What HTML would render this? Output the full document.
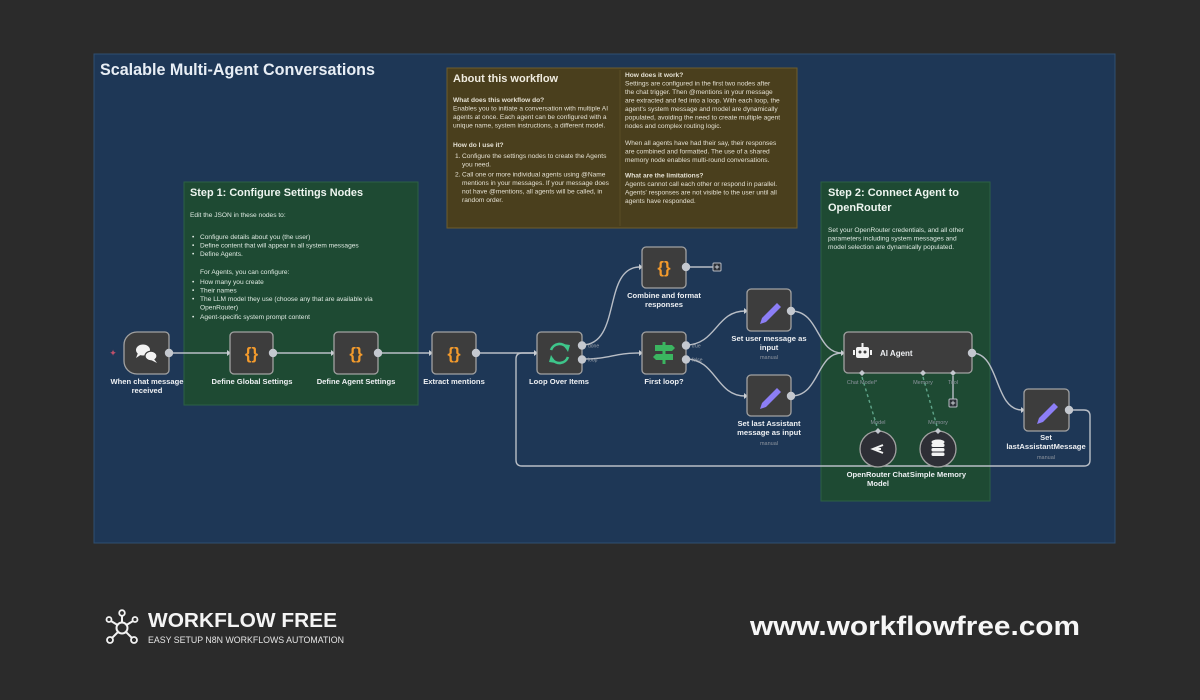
<!DOCTYPE html>
<html><head><meta charset="utf-8">
<style>
html,body{margin:0;padding:0;background:#2b2b2b;}
svg{display:block;}
text{font-family:"Liberation Sans",sans-serif;}
</style></head>
<body>
<svg width="1200" height="700" viewBox="0 0 1200 700" xmlns="http://www.w3.org/2000/svg">
<rect x="0" y="0" width="1200" height="700" fill="#2b2b2b"/>
<!-- frame -->
<rect x="94" y="54" width="1021" height="489" fill="#1e3756" stroke="#2f4f72" stroke-width="1"/>
<text x="100" y="75" font-size="16.5" font-weight="bold" fill="#e8eef5" textLength="275" lengthAdjust="spacingAndGlyphs">Scalable Multi-Agent Conversations</text>

<!-- About note -->
<rect x="447" y="68" width="350" height="160" fill="#4a3f1d" stroke="#6d5d2d" stroke-width="1"/>
<line x1="620" y1="70" x2="620" y2="226" stroke="#5a4c25" stroke-width="1"/>
<g fill="#e4e0d2" font-size="6.6">
<text x="453" y="82" font-size="11" font-weight="bold" fill="#f0ece0">About this workflow</text>
<text x="453" y="102" font-weight="bold">What does this workflow do?</text>
<text x="453" y="110.5">Enables you to initiate a conversation with multiple AI</text>
<text x="453" y="119">agents at once. Each agent can be configured with a</text>
<text x="453" y="127.5">unique name, system instructions, a different model.</text>
<text x="453" y="147" font-weight="bold">How do I use it?</text>
<text x="455" y="158">1.</text><text x="462" y="158">Configure the settings nodes to create the Agents</text>
<text x="462" y="166.5">you need.</text>
<text x="455" y="176.5">2.</text><text x="462" y="176.5">Call one or more individual agents using @Name</text>
<text x="462" y="185">mentions in your messages. If your message does</text>
<text x="462" y="193.5">not have @mentions, all agents will be called, in</text>
<text x="462" y="202">random order.</text>

<text x="625" y="77" font-weight="bold">How does it work?</text>
<text x="625" y="85.5">Settings are configured in the first two nodes after</text>
<text x="625" y="94">the chat trigger. Then @mentions in your message</text>
<text x="625" y="102.5">are extracted and fed into a loop. With each loop, the</text>
<text x="625" y="111">agent's system message and model are dynamically</text>
<text x="625" y="119.5">populated, avoiding the need to create multiple agent</text>
<text x="625" y="128">nodes and complex routing logic.</text>
<text x="625" y="145">When all agents have had their say, their responses</text>
<text x="625" y="153.5">are combined and formatted. The use of a shared</text>
<text x="625" y="162">memory node enables multi-round conversations.</text>
<text x="625" y="177.5" font-weight="bold">What are the limitations?</text>
<text x="625" y="186">Agents cannot call each other or respond in parallel.</text>
<text x="625" y="194.5">Agents' responses are not visible to the user until all</text>
<text x="625" y="203">agents have responded.</text>
</g>

<!-- Step 1 note -->
<rect x="184" y="182" width="234" height="223" fill="#1e4a33" stroke="#2c6044" stroke-width="1"/>
<g fill="#dfeae2" font-size="6.6">
<text x="190" y="196" font-size="11" font-weight="bold" fill="#eef5f0" textLength="173" lengthAdjust="spacingAndGlyphs">Step 1: Configure Settings Nodes</text>
<text x="190" y="217">Edit the JSON in these nodes to:</text>
<text x="192" y="239">•</text><text x="200" y="239">Configure details about you (the user)</text>
<text x="192" y="247.5">•</text><text x="200" y="247.5">Define content that will appear in all system messages</text>
<text x="192" y="256">•</text><text x="200" y="256">Define Agents.</text>
<text x="200" y="274">For Agents, you can configure:</text>
<text x="192" y="284">•</text><text x="200" y="284">How many you create</text>
<text x="192" y="292.5">•</text><text x="200" y="292.5">Their names</text>
<text x="192" y="301">•</text><text x="200" y="301">The LLM model they use (choose any that are available via</text>
<text x="200" y="309.5">OpenRouter)</text>
<text x="192" y="319">•</text><text x="200" y="319">Agent-specific system prompt content</text>
</g>

<!-- Step 2 note -->
<rect x="821" y="182" width="169" height="319" fill="#1e4a33" stroke="#2c6044" stroke-width="1"/>
<g fill="#dfeae2" font-size="6.6">
<text x="828" y="196" font-size="11" font-weight="bold" fill="#eef5f0" textLength="131" lengthAdjust="spacingAndGlyphs">Step 2: Connect Agent to</text>
<text x="828" y="211" font-size="11" font-weight="bold" fill="#eef5f0">OpenRouter</text>
<text x="828" y="232">Set your OpenRouter credentials, and all other</text>
<text x="828" y="240.5">parameters including system messages and</text>
<text x="828" y="249">model selection are dynamically populated.</text>
</g>

<!-- connectors -->
<g fill="none" stroke="#b9bec6" stroke-width="1.4">
<path d="M168,353 H228"/>
<path d="M273,353 H332"/>
<path d="M378,353 H430"/>
<path d="M476,353 H535"/>
<path d="M582,345 C622,345 602,267 640,267"/>
<path d="M582,359 C612,359 612,353 640,353"/>
<path d="M686,345 C716,345 716,311 745,311"/>
<path d="M686,359 C716,359 716,396 745,396"/>
<path d="M791,311 C820,311 816,353 842,353"/>
<path d="M791,396 C820,396 816,353 842,353"/>
<path d="M686,267 H713"/>
<path d="M972,353 C1000,353 994,410 1022,410"/>
<path d="M1069,410 H1084 Q1090,410 1090,416 V460 Q1090,466 1084,466 H522 Q516,466 516,460 V359 Q516,353 522,353 H535"/>
<path d="M953,376 V399"/>
</g>
<!-- dashed sub-connections -->
<g fill="none" stroke="#5fa58a" stroke-width="1.4" stroke-dasharray="3,3">
<path d="M862,377 L878,430"/>
<path d="M923,377 L938,430"/>
</g>
<!-- input arrows -->
<g fill="#c9cdd3">
<path d="M227,350 L231,353 L227,356 Z"/><rect x="230.5" y="349" width="1.5" height="8"/>
<path d="M331,350 L335,353 L331,356 Z"/><rect x="334.5" y="349" width="1.5" height="8"/>
<path d="M429,350 L433,353 L429,356 Z"/><rect x="432.5" y="349" width="1.5" height="8"/>
<path d="M534,350 L538,353 L534,356 Z"/><rect x="537.5" y="349" width="1.5" height="8"/>
<path d="M639,264 L643,267 L639,270 Z"/><rect x="642.5" y="263" width="1.5" height="8"/>
<path d="M639,350 L643,353 L639,356 Z"/><rect x="642.5" y="349" width="1.5" height="8"/>
<path d="M744,308 L748,311 L744,314 Z"/><rect x="747.5" y="307" width="1.5" height="8"/>
<path d="M744,393 L748,396 L744,399 Z"/><rect x="747.5" y="392" width="1.5" height="8"/>
<path d="M841,350 L845,353 L841,356 Z"/><rect x="844.5" y="349" width="1.5" height="8"/>
<path d="M1021,407 L1025,410 L1021,413 Z"/><rect x="1024.5" y="406" width="1.5" height="8"/>
</g>

<!-- nodes -->
<g fill="#3d3d3d" stroke="#a2a2a2" stroke-width="1.3">
<path d="M137,332 H165 a4,4 0 0 1 4,4 V370 a4,4 0 0 1 -4,4 H137 a13,13 0 0 1 -13,-13 V345 a13,13 0 0 1 13,-13 Z"/>
<rect x="230" y="332" width="43" height="42" rx="4"/>
<rect x="334" y="332" width="44" height="42" rx="4"/>
<rect x="432" y="332" width="44" height="42" rx="4"/>
<rect x="537" y="332" width="45" height="42" rx="4"/>
<rect x="642" y="247" width="44" height="41" rx="4"/>
<rect x="642" y="332" width="44" height="42" rx="4"/>
<rect x="747" y="289" width="44" height="42" rx="4"/>
<rect x="747" y="375" width="44" height="41" rx="4"/>
<rect x="844" y="332" width="128" height="41" rx="4"/>
<rect x="1024" y="389" width="45" height="42" rx="4"/>
</g>
<!-- sub nodes circles -->
<g fill="#2e2f36" stroke="#a2a2a2" stroke-width="1.3">
<circle cx="878" cy="449" r="18"/>
<circle cx="938" cy="449" r="18"/>
</g>
<!-- plus boxes -->
<g fill="#2b2f36" stroke="#b9bec6" stroke-width="1">
<rect x="713" y="263" width="8" height="8" rx="1"/>
<rect x="949" y="399" width="8" height="8" rx="1"/>
</g>
<g stroke="#d0d4da" stroke-width="0.9">
<path d="M714.8,267 H719.2 M717,264.8 V269.2"/>
<path d="M950.8,403 H955.2 M953,400.8 V405.2"/>
</g>

<!-- output ports -->
<g fill="#c4c8cf">
<circle cx="169" cy="353" r="4.2"/>
<circle cx="273" cy="353" r="4.2"/>
<circle cx="378" cy="353" r="4.2"/>
<circle cx="476" cy="353" r="4.2"/>
<circle cx="582" cy="345.5" r="4.2"/>
<circle cx="582" cy="359.5" r="4.2"/>
<circle cx="686" cy="267" r="4.2"/>
<circle cx="686" cy="345.5" r="4.2"/>
<circle cx="686" cy="359.5" r="4.2"/>
<circle cx="791" cy="311" r="4.2"/>
<circle cx="791" cy="396" r="4.2"/>
<circle cx="972" cy="353" r="4.2"/>
<circle cx="1069" cy="410" r="4.2"/>
<path d="M862,370 L865,373 L862,376 L859,373 Z"/>
<path d="M923,370 L926,373 L923,376 L920,373 Z"/>
<path d="M953,370 L956,373 L953,376 L950,373 Z"/>
<path d="M878,428 L881,431 L878,434 L875,431 Z"/>
<path d="M938,428 L941,431 L938,434 L935,431 Z"/>
</g>
<!-- trigger mark -->
<text x="113" y="356" font-size="9" fill="#c0506a" text-anchor="middle">✦</text>

<!-- icons -->
<!-- chat bubbles -->
<g fill="#f2f2f2">
<ellipse cx="143" cy="350" rx="7" ry="5.5"/>
<path d="M138,353 L136,358 L142,354 Z"/>
<ellipse cx="151" cy="356" rx="6" ry="4.8" stroke="#3d3d3d" stroke-width="1.2"/>
<path d="M154,359 L157,363 L151,360 Z"/>
</g>
<!-- braces -->
<g fill="#f39a2c" font-size="17" font-weight="bold" text-anchor="middle">
<text x="251.5" y="359">{}</text>
<text x="356" y="359">{}</text>
<text x="454" y="359">{}</text>
<text x="664" y="273">{}</text>
</g>
<!-- loop icon -->
<g fill="none" stroke="#3ec58a" stroke-width="2.6">
<path d="M551,350 A9,9 0 0 1 567,348"/>
<path d="M568,357 A9,9 0 0 1 552,359"/>
</g>
<g fill="#3ec58a">
<path d="M563,344 L570,345 L568,352 Z"/>
<path d="M556,363 L549,362 L551,355 Z"/>
</g>
<!-- signpost -->
<g fill="#3bb560">
<rect x="662.5" y="342" width="3" height="22"/>
<path d="M655,345 H672 L675,348 L672,351 H655 Z"/>
<path d="M673,354 H656 L653,357 L656,360 H673 Z"/>
</g>
<!-- pencils -->
<g fill="#8c7ef6">
<path d="M762,318 L777,303 L781,307 L766,322 L760,324 Z"/>
<path d="M762,403 L777,388 L781,392 L766,407 L760,409 Z"/>
<path d="M1039,418 L1054,403 L1058,407 L1043,422 L1037,424 Z"/>
</g>
<!-- robot -->
<g fill="#f2f2f2">
<rect x="856" y="347" width="13" height="11" rx="2"/>
<rect x="861.5" y="343" width="2" height="4"/>
<rect x="853" y="350" width="2" height="5"/>
<rect x="870" y="350" width="2" height="5"/>
</g>
<g fill="#3d3d3d">
<circle cx="860" cy="352" r="1.5"/><circle cx="865" cy="352" r="1.5"/>
</g>
<!-- openrouter icon -->
<g fill="none" stroke="#f2f2f2" stroke-width="2">
<path d="M883,445 L873,449 L883,453"/>
<path d="M876,449 H881"/>
</g>
<!-- database -->
<g fill="#f2f2f2">
<ellipse cx="938" cy="442" rx="6.5" ry="2.5"/>
<rect x="931.5" y="443.5" width="13" height="3.5" rx="1.5"/>
<rect x="931.5" y="448" width="13" height="3.5" rx="1.5"/>
<rect x="931.5" y="452.5" width="13" height="3.5" rx="1.5"/>
</g>

<!-- labels -->
<g fill="#eef0f3" font-size="7.6" font-weight="bold" text-anchor="middle">
<text x="147" y="384">When chat message</text>
<text x="147" y="393">received</text>
<text x="252" y="384">Define Global Settings</text>
<text x="356" y="384">Define Agent Settings</text>
<text x="454" y="384">Extract mentions</text>
<text x="559" y="384">Loop Over Items</text>
<text x="664" y="384">First loop?</text>
<text x="664" y="298">Combine and format</text>
<text x="664" y="307">responses</text>
<text x="769" y="341">Set user message as</text>
<text x="769" y="350">input</text>
<text x="769" y="426">Set last Assistant</text>
<text x="769" y="435">message as input</text>
<text x="878" y="477">OpenRouter Chat</text>
<text x="878" y="486">Model</text>
<text x="938" y="477">Simple Memory</text>
<text x="1046" y="440">Set</text>
<text x="1046" y="449">lastAssistantMessage</text>
</g>
<text x="880" y="356" font-size="8" font-weight="bold" fill="#eef0f3">AI Agent</text>
<g fill="#8d949e" font-size="5.5" text-anchor="middle">
<text x="769" y="359">manual</text>
<text x="769" y="445">manual</text>
<text x="1046" y="459">manual</text>
<text x="862" y="384">Chat Model*</text>
<text x="923" y="384">Memory</text>
<text x="953" y="384">Tool</text>
<text x="878" y="424">Model</text>
<text x="938" y="424">Memory</text>
</g>
<g fill="#9aa1ab" font-size="5" >
<text x="588" y="347.5">done</text>
<text x="588" y="361.5">loop</text>
<text x="692" y="347.5">true</text>
<text x="692" y="361.5">false</text>
</g>

<!-- footer -->
<g fill="none" stroke="#f2f2f2" stroke-width="2">
<circle cx="122" cy="628" r="5.5"/>
<path d="M122,622.5 V616 M117.5,625 L111,621 M126.5,625 L133,621 M118,632 L112,638 M126,632 L132,638"/>
</g>
<g fill="#2b2b2b" stroke="#f2f2f2" stroke-width="1.8">
<circle cx="122" cy="613" r="2.8"/>
<circle cx="109" cy="619.5" r="2.5"/>
<circle cx="135" cy="619.5" r="2.5"/>
<circle cx="110" cy="640" r="3"/>
<circle cx="134" cy="640" r="3"/>
</g>
<text x="148" y="627" font-size="20" font-weight="bold" fill="#f4f4f4" textLength="189" lengthAdjust="spacingAndGlyphs">WORKFLOW FREE</text>
<text x="148" y="643" font-size="9.5" fill="#e6e6e6" textLength="196" lengthAdjust="spacingAndGlyphs">EASY SETUP N8N WORKFLOWS AUTOMATION</text>
<text x="750" y="635" font-size="27" font-weight="bold" fill="#f6f6f6" textLength="330" lengthAdjust="spacingAndGlyphs">www.workflowfree.com</text>
</svg>
</body></html>
